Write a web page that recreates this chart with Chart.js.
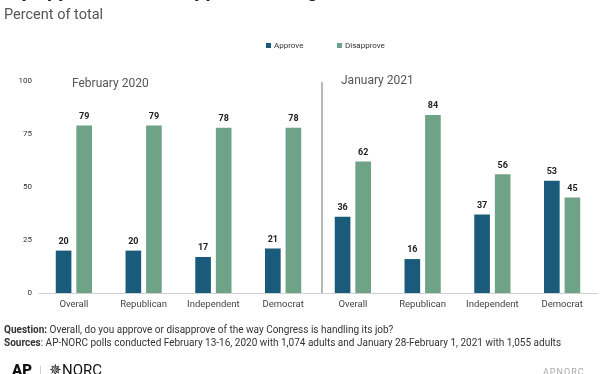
<!DOCTYPE html>
<html>
<head>
<meta charset="utf-8">
<script src="https://cdn.jsdelivr.net/npm/chart.js@4"></script>
<style>
  body { margin: 0; width: 612px; height: 374px; overflow: hidden; background: #fff; font-family: Roboto, "Open Sans", sans-serif; }
  #wrap { position: absolute; left: 0; top: 0; width: 612px; height: 374px; }
  .txt { position: absolute; white-space: nowrap; }
  #title { left: -2px; top: -22px; font-size: 20px; font-weight: bold; color: #222; }
  #subtitle { left: 4px; top: 6px; font-size: 14.5px; color: #555; }
  #question { left: 4px; top: 324px; font-size: 10px; color: #333; }
  #sources { left: 4px; top: 337px; font-size: 10px; color: #333; }
  #logo { left: 12px; top: 361px; font-size: 15px; color: #111; }
  #logo b { font-weight: 900; }
  #logo .sep { color: #ccc; margin: 0 7px; font-size: 12px; }
  #credit { left: 543px; top: 367px; font-size: 9px; color: #aaa; letter-spacing: 1px; }
</style>
</head>
<body>
<div id="wrap">
  <canvas id="chart" width="612" height="374"></canvas>
</div>
<div class="txt" id="title">Key approval and disapproval ratings</div>
<div class="txt" id="subtitle">Percent of total</div>
<div class="txt" id="question"><b>Question:</b> Overall, do you approve or disapprove of the way Congress is handling its job?</div>
<div class="txt" id="sources"><b>Sources</b>: AP-NORC polls conducted February 13-16, 2020 with 1,074 adults and January 28-February 1, 2021 with 1,055 adults</div>
<div class="txt" id="logo"><b>AP</b><span class="sep">|</span>&#x2735;NORC</div>
<div class="txt" id="credit">APNORC</div>
<script>
const categories = ["Overall", "Republican", "Independent", "Democrat",
                    "Overall", "Republican", "Independent", "Democrat"];
const periods = ["February 2020", "January 2021"];
const approve = [20, 20, 17, 21, 36, 16, 37, 53];
const disapprove = [79, 79, 78, 78, 62, 84, 56, 45];
const yTicks = [0, 25, 50, 75, 100];

const approveColor = "#1a5b7c";
const disapproveColor = "#6ea387";

// value labels over each bar
const barLabels = {
  id: "barLabels",
  afterDatasetsDraw(chart) {
    const { ctx } = chart;
    ctx.save();
    ctx.font = "bold 9px Roboto, sans-serif";
    ctx.fillStyle = "#222";
    ctx.textAlign = "center";
    ctx.textBaseline = "middle";
    chart.data.datasets.forEach((ds, i) => {
      chart.getDatasetMeta(i).data.forEach((bar, j) => {
        ctx.fillText(ds.data[j], bar.x, bar.y - 9);
      });
    });
    ctx.restore();
  },
};

// period divider, period captions and legend
const panels = {
  id: "panels",
  afterDraw(chart) {
    const { ctx, chartArea: { top, bottom }, scales: { x } } = chart;
    ctx.save();

    const divX = (x.getPixelForValue(3) + x.getPixelForValue(4)) / 2 + 4;
    ctx.strokeStyle = "#a0a0a0";
    ctx.lineWidth = 1.5;
    ctx.beginPath();
    ctx.moveTo(divX, top + 1);
    ctx.lineTo(divX, bottom);
    ctx.stroke();

    ctx.font = "12px Roboto, sans-serif";
    ctx.fillStyle = "#555";
    ctx.textBaseline = "middle";
    ctx.textAlign = "left";
    ctx.fillText(periods[0], 72, 84);
    ctx.fillText(periods[1], 341, 81);

    // legend
    ctx.font = "8px Roboto, sans-serif";
    const items = [
      { label: "Approve", color: approveColor, x: 266 },
      { label: "Disapprove", color: disapproveColor, x: 337 },
    ];
    items.forEach((it) => {
      ctx.fillStyle = it.color;
      ctx.fillRect(it.x, 43, 5, 5);
      ctx.fillStyle = "#333";
      ctx.fillText(it.label, it.x + 8, 45.5);
    });

    ctx.restore();
  },
};

new Chart(document.getElementById("chart"), {
  type: "bar",
  data: {
    labels: categories,
    datasets: [
      { label: "Approve", data: approve, backgroundColor: approveColor },
      { label: "Disapprove", data: disapprove, backgroundColor: disapproveColor },
    ],
  },
  options: {
    responsive: false,
    animation: false,
    categoryPercentage: 0.59,
    barPercentage: 0.76,
    layout: { padding: { top: 81, right: 15, bottom: 0, left: 0 } },
    plugins: {
      legend: { display: false },
      tooltip: { enabled: false },
    },
    scales: {
      x: {
        grid: { display: false, drawTicks: false },
        border: { display: true, color: "#d0d0d0", width: 1 },
        ticks: { color: "#444", font: { size: 9.5, family: "Roboto" }, padding: 6, maxRotation: 0, autoSkip: false },
        afterFit(s) { s.height = 81; },
      },
      y: {
        min: 0,
        max: 100,
        grid: { display: false, drawTicks: false },
        border: { display: false },
        afterBuildTicks(s) { s.ticks = yTicks.map((v) => ({ value: v })); },
        ticks: { color: "#333", font: { size: 8, family: "Roboto" }, padding: 7 },
        afterFit(s) { s.width = 39; },
      },
    },
  },
  plugins: [barLabels, panels],
});
</script>
</body>
</html>
